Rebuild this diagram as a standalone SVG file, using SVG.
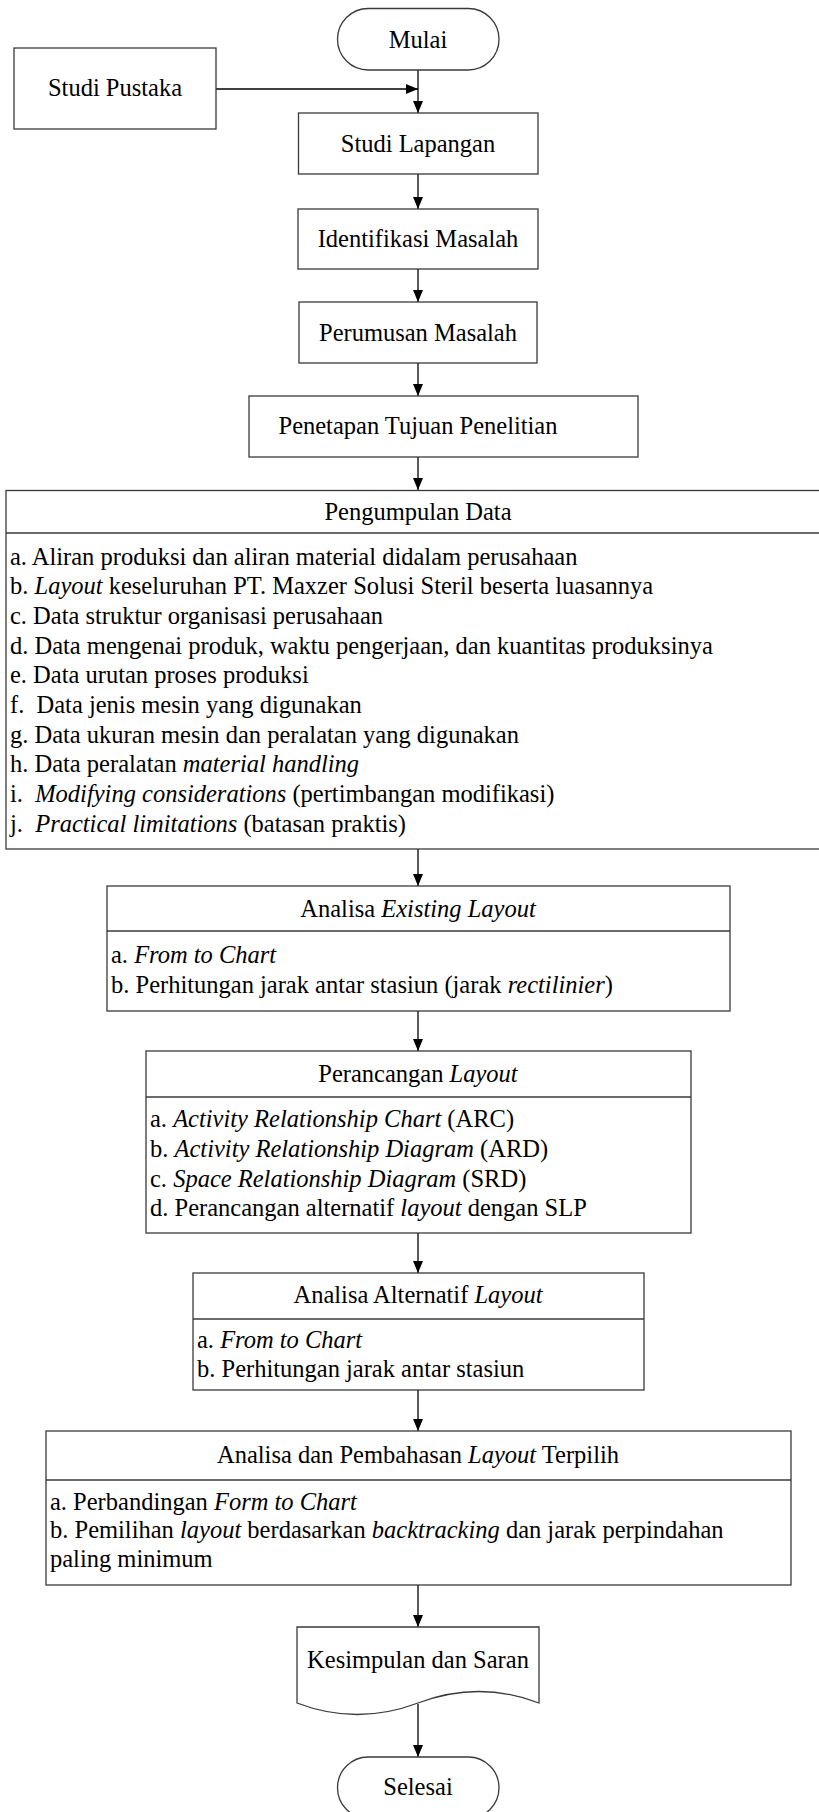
<svg xmlns="http://www.w3.org/2000/svg" width="819" height="1812" viewBox="0 0 819 1812" font-family="'Liberation Serif', 'Times New Roman', Times, serif">
<style>
text{font-family:'Liberation Serif','Times New Roman',Times,serif;font-size:24.5px;fill:#000}
.c{text-anchor:middle}
.i{font-style:italic}
.box{fill:#fff;stroke:#3a3a3a;stroke-width:1.3}
.sep{stroke:#3a3a3a;stroke-width:1.3}
.con{stroke:#000;stroke-width:1.3;fill:none;marker-end:url(#ah)}
</style>
<defs>
<marker id="ah" markerUnits="userSpaceOnUse" markerWidth="12" markerHeight="12" viewBox="0 0 12 10" refX="12" refY="5" orient="auto">
<path d="M0,0 L12,5 L0,10 Z" fill="#000"/>
</marker>
</defs>
<rect width="819" height="1812" fill="#fff"/>

<g id="connectors">
<line class="con" x1="216" y1="89" x2="418" y2="89"/>
<line class="con" x1="418" y1="70" x2="418" y2="113"/>
<line class="con" x1="418" y1="174" x2="418" y2="209"/>
<line class="con" x1="418" y1="269" x2="418" y2="302"/>
<line class="con" x1="418" y1="363" x2="418" y2="396"/>
<line class="con" x1="418" y1="457" x2="418" y2="490"/>
<line class="con" x1="418" y1="849" x2="418" y2="886"/>
<line class="con" x1="418" y1="1011" x2="418" y2="1051"/>
<line class="con" x1="418" y1="1233" x2="418" y2="1273"/>
<line class="con" x1="418" y1="1390" x2="418" y2="1431"/>
<line class="con" x1="418" y1="1585" x2="418" y2="1627"/>
<line class="con" x1="418" y1="1704" x2="418" y2="1757"/>
</g>

<g id="mulai">
<rect class="box" x="337.5" y="8.5" width="161.5" height="61.5" rx="30.75"/>
<text class="c" x="418" y="48">Mulai</text>
</g>

<g id="studi-pustaka">
<rect class="box" x="14" y="48" width="202" height="81"/>
<text class="c" x="115" y="96">Studi Pustaka</text>
</g>

<g id="studi-lapangan">
<rect class="box" x="298.5" y="113" width="239.5" height="61"/>
<text class="c" x="418" y="152">Studi Lapangan</text>
</g>

<g id="identifikasi">
<rect class="box" x="298" y="209" width="240" height="60"/>
<text class="c" x="418" y="247">Identifikasi Masalah</text>
</g>

<g id="perumusan">
<rect class="box" x="299" y="302" width="238" height="61"/>
<text class="c" x="418" y="341">Perumusan Masalah</text>
</g>

<g id="penetapan">
<rect class="box" x="249" y="396" width="389" height="61"/>
<text class="c" x="418" y="434">Penetapan Tujuan Penelitian</text>
</g>

<g id="pengumpulan">
<rect class="box" x="6" y="490.5" width="830" height="358.5"/>
<line class="sep" x1="6" y1="533" x2="836" y2="533"/>
<text class="c" x="418" y="520">Pengumpulan Data</text>
<text x="10" y="565">a. Aliran produksi dan aliran material didalam perusahaan</text>
<text x="10" y="594">b. <tspan class="i">Layout</tspan> keseluruhan PT. Maxzer Solusi Steril beserta luasannya</text>
<text x="10" y="624">c. Data struktur organisasi perusahaan</text>
<text x="10" y="654">d. Data mengenai produk, waktu pengerjaan, dan kuantitas produksinya</text>
<text x="10" y="683">e. Data urutan proses produksi</text>
<text x="10" y="713" xml:space="preserve">f.  Data jenis mesin yang digunakan</text>
<text x="10" y="743">g. Data ukuran mesin dan peralatan yang digunakan</text>
<text x="10" y="772">h. Data peralatan <tspan class="i">material handling</tspan></text>
<text x="10" y="802" xml:space="preserve">i.  <tspan class="i">Modifying considerations</tspan> (pertimbangan modifikasi)</text>
<text x="10" y="832" xml:space="preserve">j.  <tspan class="i">Practical limitations</tspan> (batasan praktis)</text>
</g>

<g id="analisa-existing">
<rect class="box" x="107" y="886" width="623" height="125"/>
<line class="sep" x1="107" y1="931" x2="730" y2="931"/>
<text class="c" x="418" y="917">Analisa <tspan class="i">Existing Layout</tspan></text>
<text x="111" y="963">a. <tspan class="i">From to Chart</tspan></text>
<text x="111" y="993">b. Perhitungan jarak antar stasiun (jarak <tspan class="i">rectilinier</tspan>)</text>
</g>

<g id="perancangan">
<rect class="box" x="146" y="1051" width="545" height="182"/>
<line class="sep" x1="146" y1="1097" x2="691" y2="1097"/>
<text class="c" x="418" y="1082">Perancangan <tspan class="i">Layout</tspan></text>
<text x="150" y="1127">a. <tspan class="i">Activity Relationship Chart</tspan> (ARC)</text>
<text x="150" y="1157">b. <tspan class="i">Activity Relationship Diagram</tspan> (ARD)</text>
<text x="150" y="1187">c. <tspan class="i">Space Relationship Diagram</tspan> (SRD)</text>
<text x="150" y="1216">d. Perancangan alternatif <tspan class="i">layout</tspan> dengan SLP</text>
</g>

<g id="analisa-alternatif">
<rect class="box" x="193" y="1273" width="451" height="117"/>
<line class="sep" x1="193" y1="1319" x2="644" y2="1319"/>
<text class="c" x="418" y="1303">Analisa Alternatif <tspan class="i">Layout</tspan></text>
<text x="197" y="1348">a. <tspan class="i">From to Chart</tspan></text>
<text x="197" y="1377">b. Perhitungan jarak antar stasiun</text>
</g>

<g id="analisa-pembahasan">
<rect class="box" x="46" y="1431" width="745" height="154"/>
<line class="sep" x1="46" y1="1480" x2="791" y2="1480"/>
<text class="c" x="418" y="1463">Analisa dan Pembahasan <tspan class="i">Layout</tspan> Terpilih</text>
<text x="50" y="1510">a. Perbandingan <tspan class="i">Form to Chart</tspan></text>
<text x="50" y="1538">b. Pemilihan <tspan class="i">layout</tspan> berdasarkan <tspan class="i">backtracking</tspan> dan jarak perpindahan</text>
<text x="50" y="1567">paling minimum</text>
</g>

<g id="kesimpulan">
<path class="box" d="M297,1627 L539,1627 L539,1703 Q479,1680 418,1703 Q357,1726 297,1703 Z"/>
<text class="c" x="418" y="1668">Kesimpulan dan Saran</text>
</g>

<g id="selesai">
<rect class="box" x="337.5" y="1757" width="161.5" height="61.5" rx="30.75"/>
<text class="c" x="418" y="1795">Selesai</text>
</g>
</svg>
